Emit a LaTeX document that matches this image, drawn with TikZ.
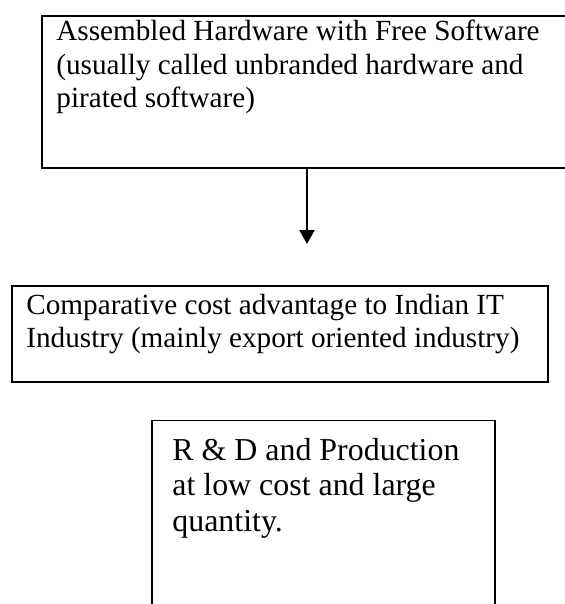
\documentclass[tikz,border=0pt]{standalone}
\usepackage{fontspec}
\setmainfont{Liberation Serif}
\usetikzlibrary{arrows.meta}
\tikzset{
  boxA/.style={draw=black, line width=1pt, fill=none, inner sep=0, anchor=north west},
  boxB/.style={draw=black, line width=0.7pt, fill=none, inner sep=0, anchor=north west},
  txtA/.style={anchor=base west, inner sep=0, font=\fontsize{14.6pt}{16.85pt}\selectfont},
  txtB/.style={anchor=base west, inner sep=0, font=\fontsize{15.95pt}{17.75pt}\selectfont},
  flow/.style={line width=1pt, -{Triangle[width=7.5pt,length=7pt]}}
}
\begin{document}
\begin{tikzpicture}[x=0.5pt, y=-0.5pt]
\useasboundingbox (0,0) rectangle (565,604);
\clip (0,0) rectangle (565,604);
\fill[white] (0,0) rectangle (565,604);
% boxes
\node[boxA, minimum width=279.75pt, minimum height=75.9pt] (b1) at (40.5,15) {};
\node[boxA, minimum width=268.1pt, minimum height=47.8pt] (b2) at (10.8,285) {};
\node[boxB, minimum width=171.5pt, minimum height=125pt] (b3) at (151.4,420) {};
% texts
\node[txtA] (t1) at (56,40.4) {\parbox[t]{270pt}{\raggedright Assembled Hardware with Free Software\\(usually called unbranded hardware and\\pirated software)}};
\node[txtA] (t2) at (26,314) {\parbox[t]{265pt}{\raggedright Comparative cost advantage to Indian IT\\Industry (mainly export oriented industry)}};
\node[txtB] (t3) at (172,460) {\parbox[t]{165pt}{\raggedright R \& D and Production\\at low cost and large\\quantity.}};
% connector
\coordinate (tip) at (307,244);
\draw[flow] (b1.south -| tip) -- (tip);
\end{tikzpicture}
\end{document}
